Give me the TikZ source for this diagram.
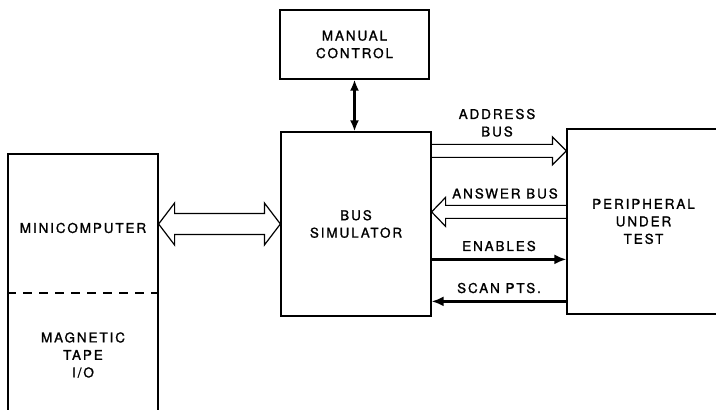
\documentclass[tikz,border=0pt]{standalone}
\usepackage{fontspec}
\newfontfamily\diagfont[LetterSpace=14, FakeBold=1.2]{TeX Gyre Heros}
\newcommand{\diagtext}{\diagfont\fontsize{13.5}{17.5}\selectfont}
\usetikzlibrary{arrows.meta, calc, positioning}
\tikzset{
  block/.style={
    draw,
    line width=1.2pt,
    inner sep=0pt,
    align=center,
    font=\diagtext
  },
  bus outline/.style={
    draw,
    line width=1.2pt,
    line join=miter
  },
  signal/.style={
    line width=2.6pt,
    -{Latex[length=12pt, width=10pt]}
  },
  tag/.style={
    font=\diagtext,
    align=center,
    inner sep=0pt
  },
  split line/.style={
    line width=1.2pt,
    dash pattern=on 9pt off 7pt
  }
}
% hollow bus arrow: from, to, shaft half, head half, head length
\newcommand{\busarrow}[5]{%
  \draw[bus outline] let \p1=(#1), \p2=(#2), \n1={ifthenelse(\x2>\x1,1,-1)} in
    (\x1,\y1+#3) -- (\x2-\n1*#5,\y1+#3) -- (\x2-\n1*#5,\y1+#4) -- (\x2,\y1)
    -- (\x2-\n1*#5,\y1-#4) -- (\x2-\n1*#5,\y1-#3) -- (\x1,\y1-#3);}

\begin{document}
\begin{tikzpicture}[x=1pt, y=1pt, >=Latex]

  \useasboundingbox (0,0) rectangle (716,410);

  %% ---- blocks ----
  \node[block, minimum width=149pt, minimum height=69pt] (man) at (354.5,365.5) {MANUAL\\CONTROL};
  \node[block, minimum width=150pt, minimum height=184pt] (sim) at (356,186) {BUS\\SIMULATOR};
  \node[block, minimum width=153pt, minimum height=185pt] (per) at (643.5,188.5) {PERIPHERAL\\UNDER\\TEST};
  \node[block, minimum width=150pt, minimum height=266pt] (mini) at (83,123) {};

  %% ---- minicomputer / tape split ----
  \node[tag] (minilbl) at (83,182) {MINICOMPUTER};
  \node[tag] (tape) at (83,55) {MAGNETIC\\TAPE\\I/O};
  \coordinate (split) at (83,117);
  \draw[split line] (mini.west |- split) -- (mini.east |- split);

  %% ---- manual control link ----
  \draw[line width=2.2pt, {Latex[length=11pt, width=9pt]}-{Latex[length=11pt, width=9pt]}]
      (man.south) -- (man.south |- sim.north);

  %% ---- minicomputer <-> bus simulator ----
  \draw[bus outline] let \p1=(mini.east |- sim.west), \p2=(sim.west) in
    (\x1,\y1) -- (\x1+16,\y1+21) -- (\x1+16,\y1+10.5) -- (\x2-16,\y1+10.5)
    -- (\x2-16,\y1+21) -- (\x2,\y1) -- (\x2-16,\y1-21) -- (\x2-16,\y1-10.5)
    -- (\x1+16,\y1-10.5) -- (\x1+16,\y1-21) -- cycle;

  %% ---- buses to the peripheral ----
  \coordinate (addr) at ($(sim.north east)+(0,-19.5)$);
  \coordinate (answ) at ($(sim.north east)+(0,-80.5)$);
  \coordinate (enab) at ($(sim.north east)+(0,-128)$);
  \coordinate (scan) at ($(sim.north east)+(0,-170)$);

  \busarrow{addr}{per.west |- addr}{6.5}{14}{14}
  \busarrow{per.west |- answ}{answ}{6.5}{14.5}{14}
  \draw[signal] (enab) -- (per.west |- enab);
  \draw[signal] (per.west |- scan) -- (scan);

  %% ---- labels ----
  \coordinate (addrmid) at ($(addr)!0.5!(per.west |- addr)$);
  \coordinate (answmid) at ($(answ)!0.5!(per.west |- answ)$);
  \coordinate (enabmid) at ($(enab)!0.5!(per.west |- enab)$);
  \coordinate (scanmid) at ($(scan)!0.5!(per.west |- scan)$);
  \node[tag, above=14pt of addrmid, xshift=-2pt] (addrlbl) {ADDRESS\\BUS};
  \node[tag, above=13pt of answmid, xshift=6pt] (answlbl) {ANSWER BUS};
  \node[tag, above=8pt of enabmid] (enablbl) {ENABLES};
  \node[tag, above=8pt of scanmid] (scanlbl) {SCAN PTS.};

\end{tikzpicture}
\end{document}
